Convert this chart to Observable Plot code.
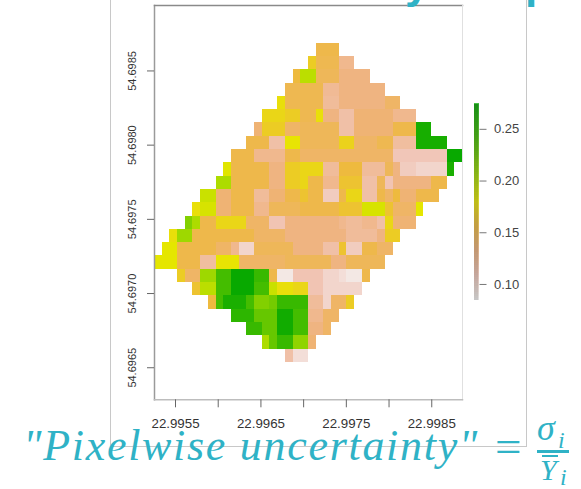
<!DOCTYPE html>
<html>
<head>
<meta charset="utf-8">
<style>
html,body{margin:0;padding:0;background:#fff;width:581px;height:489px;overflow:hidden;position:relative;font-family:"Liberation Sans",sans-serif}
#slide{position:absolute;left:110px;top:-3px;width:417px;height:450px;border:1px solid #c8c8c8;box-sizing:border-box}
#map,#key{position:absolute}
#map{left:0;top:0}
#key{left:466px;top:98px}
.f{position:absolute;font-family:"Liberation Serif",serif;font-style:italic;color:#2fb2c6;white-space:nowrap;line-height:1}
.t{position:absolute;font-family:"Liberation Sans",sans-serif;font-weight:bold;color:#2fb2c6;line-height:1;font-size:44px}
.b{position:absolute;background:#2fb2c6}
</style>
</head>
<body>
<div id="slide"></div>
<div id="map"></div>
<div id="key"></div>
<div class="t" style="left:405px;top:-39px">y</div>
<div class="t" style="left:525px;top:-39px">p</div>
<div class="f" style="left:23px;top:424px;font-size:44px;letter-spacing:1.7px">"Pixelwise uncertainty"</div>
<div class="f" style="left:495px;top:423px;font-size:47px;font-style:normal">=</div>
<div class="f" style="left:537px;top:410px;font-size:36px">σ</div>
<div class="f" style="left:558px;top:428px;font-size:24px">i</div>
<div class="b" style="left:537px;top:450px;width:32px;height:2.5px"></div>
<div class="b" style="left:542px;top:455px;width:16px;height:1.5px"></div>
<div class="f" style="left:540px;top:455px;font-size:30px">Y</div>
<div class="f" style="left:560px;top:465px;font-size:24px">i</div>
<script src="https://cdn.jsdelivr.net/npm/d3@7"></script>
<script src="https://cdn.jsdelivr.net/npm/@observablehq/plot@0.6"></script>
<script>
// Raster: first occupied column of each row, then (count, value) runs
const rowStart = [21,20,18,17,16,14,13,12,10,9,8,6,5,4,2,1,0,3,5,7,10,12,14,17];
const r00=[3,.15];
const r01=[1,.165,3,.148,2,.125];
const r02=[1,.155,2,.195,3,.145,4,.13];
const r03=[5,.148,2,.122,6,.13];
const r04=[1,.175,5,.148,2,.12,6,.13,2,.14];
const r05=[3,.17,2,.165,2,.148,1,.175,2,.13,2,.115,5,.135,3,.125];
const r06=[1,.135,3,.165,2,.14,5,.145,2,.115,5,.135,3,.15,2,.262];
const r07=[3,.15,2,.115,2,.178,5,.145,2,.168,3,.14,2,.148,3,.118,4,.262];
const r08=[3,.15,4,.125,2,.15,12,.14,7,.108,2,.27];
const r09=[1,.182,5,.15,2,.13,2,.165,3,.17,2,.12,3,.155,3,.12,1,.145,1,.13,2,.105,4,.1,1,.26];
const r10=[2,.2,5,.15,2,.13,2,.165,1,.17,2,.15,2,.125,3,.16,2,.115,1,.145,1,.11,5,.13,2,.15];
const r11=[2,.19,2,.135,3,.15,2,.12,2,.135,2,.15,1,.16,2,.15,2,.105,1,.15,2,.17,2,.115,1,.15,1,.14,1,.155,2,.135,3,.15];
const r12=[1,.175,2,.185,2,.135,3,.15,2,.125,4,.145,5,.15,3,.16,3,.185,1,.16,3,.14,1,.18];
const r13=[1,.215,1,.2,2,.15,4,.17,3,.14,2,.11,7,.13,1,.125,2,.12,2,.125,1,.115,1,.17,3,.135];
const r14=[1,.175,2,.205,8,.15,4,.14,8,.13,4,.12,1,.13,2,.165];
const r15=[2,.18,5,.15,2,.14,1,.125,2,.1,5,.145,4,.13,2,.115,1,.16,2,.105,2,.15,2,.14];
const r16=[3,.18,3,.15,2,.118,3,.178,6,.14,6,.145,2,.13,5,.145];
const r17=[1,.165,2,.14,2,.205,2,.24,3,.27,2,.245,1,.15,2,.09,4,.11,2,.1,1,.095,2,.09,1,.15];
const r18=[1,.16,2,.195,2,.24,3,.27,2,.24,1,.19,2,.175,2,.17,2,.11,5,.1];
const r19=[1,.155,1,.24,3,.26,1,.24,2,.215,1,.22,4,.245,2,.12,1,.1,2,.14,1,.165];
const r20=[3,.25,3,.225,2,.265,2,.24,2,.125,2,.14];
const r21=[2,.245,2,.225,2,.265,2,.24,2,.13,1,.14];
const r22=[1,.2,1,.225,2,.245,2,.21,1,.135];
const r23=[1,.115,2,.095];
const runs=[r00,r01,r02,r03,r04,r05,r06,r07,r08,r09,r10,r11,r12,r13,r14,r15,r16,r17,r18,r19,r20,r21,r22,r23];

const lon0=22.995254, lat0=54.698687, dLon=0.00009012, dLat=0.0000896;
const xTicks=[22.9955,22.996,22.9965,22.997,22.9975,22.998,22.9985];
const xLabels=[22.9955,22.9965,22.9975,22.9985];
const yTicks=[54.6965,54.697,54.6975,54.698,54.6985];
const keyTicks=[0.10,0.15,0.20,0.25];
const keyMin=0.0845, keyMax=0.274;

// R's rev(terrain.colors()) ramp, nudged to the picture
const rampValues=[0.0845,0.108,0.132,0.155,0.179,0.203,0.226,0.250,0.274];
const rampColors=["#F4F2F2","#F1C6B8","#EFB27C","#EEBA3E","#E8E600","#A4DA00","#63C600","#2DB600","#00A600"];

const cells=[];
runs.forEach((run,r)=>{
  let c=rowStart[r];
  for(let i=0;i<run.length;i+=2){
    for(let k=0;k<run[i];k++,c++) cells.push({c,r,v:run[i+1]});
  }
});

const color={type:"linear",domain:rampValues,range:rampColors,interpolate:"rgb"};

const map=Plot.plot({
  width:581,height:489,
  marginLeft:154,marginRight:119,marginTop:5,marginBottom:89.7,
  style:{background:"transparent",fontFamily:"Liberation Sans",overflow:"visible"},
  x:{domain:[22.995254,22.99886],axis:null},
  y:{domain:[54.696284,54.698941],axis:null},
  color,
  marks:[
    Plot.rect(cells,{
      x1:d=>lon0+d.c*dLon,x2:d=>lon0+(d.c+1)*dLon,
      y1:d=>lat0-d.r*dLat,y2:d=>lat0-(d.r+1)*dLat,
      fill:"v",shapeRendering:"crispEdges",imageFilter:"blur(0.6px)"
    }),
    Plot.frame({anchor:"left",stroke:"#9a9a9a",strokeWidth:1.5}),
    Plot.frame({anchor:"top",stroke:"#8a8a8a",strokeWidth:1.5}),
    Plot.frame({anchor:"right",stroke:"#e0e0e0"}),
    Plot.frame({anchor:"bottom",stroke:"#bdbdbd",strokeWidth:1.5}),
    Plot.axisX({ticks:xTicks,tickFormat:()=>"",tickSize:8,tickPadding:0,anchor:"bottom",stroke:"#666",label:null}),
    Plot.axisX({ticks:xLabels,tickSize:0,tickPadding:19,anchor:"bottom",tickFormat:d3.format(".4f"),fontSize:13.3,fill:"#333",label:null}),
    Plot.axisY({ticks:yTicks,tickSize:7,tickPadding:12,anchor:"left",tickRotate:-90,tickFormat:d3.format(".4f"),fontSize:11,fill:"#333",stroke:"#666",label:null})
  ]
});
document.getElementById("map").append(map);

const ramp=d3.range(keyMin,keyMax,0.002);
const key=Plot.plot({
  width:62,height:206,
  marginLeft:8,marginRight:49.5,marginTop:6,marginBottom:4,
  style:{background:"transparent",fontFamily:"Liberation Sans",overflow:"visible"},
  x:{domain:[0,1],axis:null},
  y:{domain:[keyMin,keyMax],axis:null},
  color,
  marks:[
    Plot.rect([0],{x1:0,x2:1,y1:keyMin,y2:keyMax,fill:"#555"}),
    Plot.rect(ramp,{x1:0,x2:1,y1:d=>d,y2:d=>d+0.002,fill:d=>d,fillOpacity:0.72,shapeRendering:"crispEdges"}),
    Plot.axisY({ticks:keyTicks,anchor:"right",tickSize:7,tickPadding:8,tickFormat:d3.format(".2f"),fontSize:13,fill:"#444",stroke:"#777",label:null})
  ]
});
document.getElementById("key").append(key);
</script>
</body>
</html>
